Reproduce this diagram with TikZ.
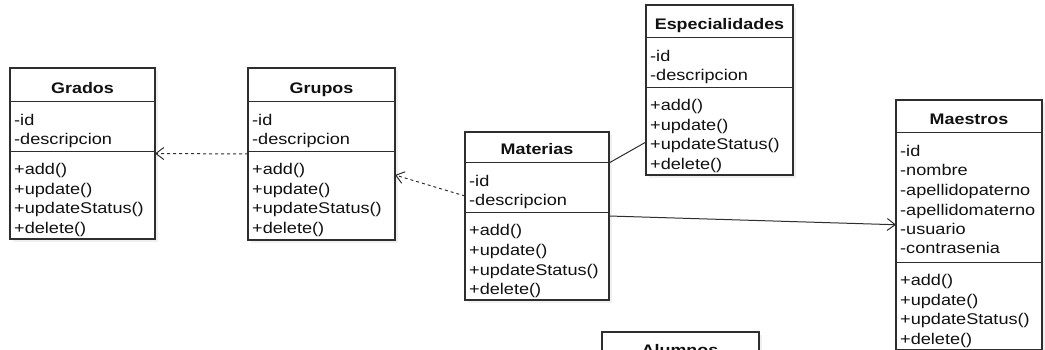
\documentclass[tikz,border=0pt]{standalone}
\usepackage{fontspec}
\setmainfont{Liberation Sans}[FakeStretch=1.17]
\usetikzlibrary{arrows.meta,calc,shadows}
\definecolor{linec}{HTML}{2E2E2E}
\definecolor{txt}{HTML}{111111}
\newcommand\umlclass[9]{% name,left,top,right,bottom,sep1,sep2,title,attrs
  \node[box, anchor=north west, minimum width={#4-#2}, minimum height={#5-#3}] (#1) at (#2,#3) {};
  \draw[sepline] ($(#1.north west)+(0,{#6-#3})$) -- ($(#1.north east)+(0,{#6-#3})$);
  \draw[sepline] ($(#1.north west)+(0,{#7-#3})$) -- ($(#1.north east)+(0,{#7-#3})$);
  \node[titletext] (#1-title) at ({(#2+#4)/2},{#6-8}) {#8};
  \foreach \s [count=\i] in {#9}
    \node[member] (#1-a\i) at ({#2+4},{#6+23.5+(\i-1)*19.5}) {\s};
  \foreach \s [count=\i] in {+add(),+update(),+updateStatus(),+delete()}
    \node[member] (#1-m\i) at ({#2+4},{#7+23.5+(\i-1)*19.5}) {\s};
}
\begin{document}
\begin{tikzpicture}[x=1pt,y=-1pt,
  box/.style={draw=linec, line width=1.1pt, fill=white, inner sep=0pt, outer sep=0pt,
    drop shadow={shadow xshift=3pt, shadow yshift=-3pt, opacity=0.12}},
  sepline/.style={draw=linec, line width=1pt},
  titletext/.style={anchor=base, inner sep=0pt, text=txt, font=\fontsize{15.3}{18}\selectfont\bfseries},
  member/.style={anchor=base west, inner sep=0pt, text=txt, font=\fontsize{15.5}{18}\selectfont},
  dep/.style={draw=linec, line width=1pt, dash pattern=on 3pt off 3pt, -{Straight Barb[length=8pt,width=12pt]}},
  assoc/.style={draw=linec, line width=1pt, -{Straight Barb[length=8pt,width=12pt]}},
  plain/.style={draw=linec, line width=1pt}]
\path[use as bounding box] (0,0) rectangle (1045,350);
\clip (0,0) rectangle (1045,350);

\umlclass{grados}{10}{68}{155}{239}{102}{151.5}{Grados}{-id,-descripcion}
\umlclass{grupos}{248}{68}{395}{240}{102}{151.5}{Grupos}{-id,-descripcion}
\umlclass{materias}{465}{132}{609}{300}{163}{212.5}{Materias}{-id,-descripcion}
\umlclass{especialidades}{646}{5}{793}{175}{38}{87.5}{Especialidades}{-id,-descripcion}
\umlclass{maestros}{896}{100}{1042}{349.5}{133}{262}{Maestros}{-id,-nombre,-apellidopaterno,-apellidomaterno,-usuario,-contrasenia}

\node[box, anchor=north west, minimum width=157, minimum height=80] (alumnos) at (602,332) {};
\node[titletext] (alumnos-title) at (680,355) {Alumnos};

\draw[dep] (grupos.west) -- (grados.east);
\draw[dep] ($(materias.west)+(0,-20)$) -- ($(grupos.east)+(0,21)$);
\draw[plain] ($(materias.north east)+(0,31)$) -- ($(especialidades.west)+(0,52)$);
\draw[assoc] (materias.east) -- (maestros.west);
\end{tikzpicture}
\end{document}
